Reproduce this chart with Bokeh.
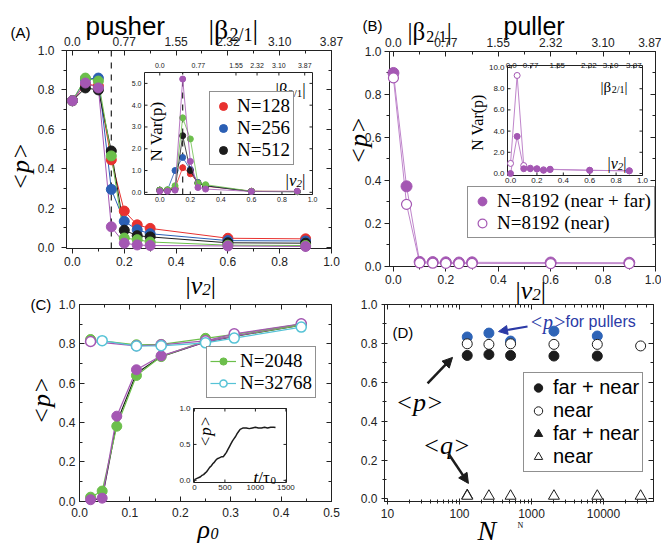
import math
from bokeh.plotting import figure
from bokeh.models import (Range1d, LinearAxis, LogAxis, FixedTicker, PrintfTickFormatter,
                          Label, Legend, LegendItem, Span, Arrow, NormalHead)
from bokeh.embed import file_html
from bokeh.resources import INLINE
from bokeh.core.properties import value

SANS = "Liberation Sans"
SERIF = "Liberation Serif"
INK = "#222222"
RED, BLUE, BLACK, GREEN, PURPLE = "#e8312f", "#2b5fb4", "#1c1c1c", "#6cbf4b", "#a457b3"
LILAC, CYAN, DBLUE, NAVY = "#bf85cb", "#56c3d6", "#2e64b7", "#2b3aa6"

# ---------------- data ----------------
# (A) pushers: <p> and N Var(p) versus |v2|
V2 = [0.0, 0.05, 0.10, 0.15, 0.20, 0.25, 0.30, 0.60, 0.90]
PUSH_P_128 = [0.745, 0.830, 0.820, 0.445, 0.185, 0.115, 0.097, 0.047, 0.044]
PUSH_P_256 = [0.745, 0.855, 0.860, 0.295, 0.133, 0.090, 0.070, 0.035, 0.033]
PUSH_P_512 = [0.745, 0.810, 0.800, 0.490, 0.088, 0.060, 0.054, 0.024, 0.022]
PUSH_P_2048 = [0.745, 0.860, 0.845, 0.465, 0.048, 0.040, 0.028, 0.012, 0.010]
PUSH_P_8192 = [0.745, 0.835, 0.810, 0.105, 0.022, 0.013, 0.010, 0.008, 0.005]
PUSH_VAR_128 = [0.10, 0.10, 0.20, 1.13, 0.85, 0.45, 0.28, 0.05, 0.04]
PUSH_VAR_256 = [0.10, 0.10, 1.00, 1.60, 1.05, 0.45, 0.30, 0.04, 0.03]
PUSH_VAR_512 = [0.10, 0.10, 0.15, 2.60, 1.00, 0.40, 0.30, 0.04, 0.03]
PUSH_VAR_2048 = [0.10, 0.12, 0.30, 3.42, 2.45, 0.42, 0.35, 0.05, 0.03]
PUSH_VAR_8192 = [0.05, 0.05, 0.10, 5.20, 1.42, 0.22, 0.15, 0.04, 0.05]
V2_CRIT = 0.15

# (B) pullers
PULL_P_FULL = [0.900, 0.372, 0.020, 0.019, 0.018, 0.017, 0.018, 0.017, 0.016]
PULL_P_NEAR = [0.877, 0.288, 0.015, 0.014, 0.013, 0.012, 0.013, 0.012, 0.012]
PULL_VAR_FULL = [0.00, 3.50, 0.45, 0.45, 0.42, 0.30, 0.38, 0.30, 0.25]
PULL_VAR_NEAR = [0.95, 9.25, 0.75, 0.50, 0.45, 0.35, 0.40, 0.30, 0.25]

# (C) <p> versus rho0
RHO = [0.022, 0.045, 0.074, 0.113, 0.162, 0.250, 0.307, 0.440]
C_2048_LOW = [0.020, 0.051, 0.381, 0.639, 0.735, 0.815, 0.840, 0.895]
C_8192_LOW = [0.007, 0.015, 0.432, 0.668, 0.739, 0.810, 0.840, 0.900]
C_BLACK_LOW = [0.005, 0.012, 0.400, 0.650, 0.735, 0.810, 0.838, 0.895]
RHO_UP = [0.022, 0.113, 0.162, 0.250, 0.307, 0.440]
C_2048_UP = [0.822, 0.795, 0.797, 0.828, 0.848, 0.900]
C_8192_UP = [0.812, 0.790, 0.795, 0.815, 0.851, 0.902]
RHO_32768 = [0.045, 0.113, 0.162, 0.250, 0.307, 0.440]
C_32768 = [0.816, 0.789, 0.790, 0.805, 0.829, 0.885]
T_INSET = [0, 25, 50, 75, 100, 125, 150, 175, 200, 225, 250, 275, 300, 325, 350, 375, 400,
           425, 450, 475, 500, 525, 550, 575, 600, 625, 650, 675, 700, 725, 750, 775, 800,
           850, 900, 950, 1000, 1050, 1100, 1150, 1200, 1250, 1300, 1330]
P_INSET = [0.01, 0.02, 0.03, 0.04, 0.05, 0.07, 0.08, 0.10, 0.12, 0.15, 0.18, 0.20, 0.23,
           0.25, 0.28, 0.30, 0.31, 0.32, 0.33, 0.33, 0.36, 0.39, 0.43, 0.47, 0.51, 0.55,
           0.58, 0.61, 0.65, 0.68, 0.71, 0.72, 0.73, 0.73, 0.72, 0.73, 0.74, 0.73, 0.73,
           0.74, 0.73, 0.74, 0.74, 0.735]

# (D) <p>, <q> versus N
N_PULL = [128, 256, 512, 2048, 8192]
D_PULL = [0.833, 0.853, 0.812, 0.863, 0.838]
N_ALL = [128, 256, 512, 2048, 8192, 32768]
D_NEAR = [0.798, 0.795, 0.798, 0.795, 0.795, 0.787]
N_FN = [128, 256, 512, 2048, 8192]
D_FARNEAR = [0.738, 0.743, 0.738, 0.735, 0.735]
D_FARNEAR_ERR = [0.020, 0.0, 0.0, 0.0, 0.0]
N_QFN = [128]
Q_FARNEAR = [0.018]
Q_NEAR = [0.015, 0.015, 0.015, 0.015, 0.015, 0.015]

# ticks
V2_TICKS = [0.0, 0.2, 0.4, 0.6, 0.8, 1.0]
V2_MINOR = [0.1, 0.3, 0.5, 0.7, 0.9]
V2_LABELS = ["0.0", "0.2", "0.4", "0.6", "0.8", "1.0"]
P_TICKS = [0.0, 0.2, 0.4, 0.6, 0.8, 1.0]
P_MINOR = [0.1, 0.3, 0.5, 0.7, 0.9]
BETA_LABELS = ["0.0", "0.77", "1.55", "2.32", "3.10", "3.87"]
BETA_AT_A = [0.0, 0.253, 0.499, 0.637, 0.780, 0.949]
BETA_AT_B = [0.005, 0.152, 0.354, 0.593, 0.758, 0.934]
VAR_A_TICKS = [0, 1, 2, 3, 4, 5]
VAR_A_LABELS = ["0.0", "1.0", "2.0", "3.0", "4.0", "5.0"]
VAR_B_TICKS = [0, 2, 4, 6, 8, 10]
VAR_B_LABELS = ["0.0", "2.0", "4.0", "6.0", "8.0", "10.0"]
RHO_TICKS = [0.0, 0.1, 0.2, 0.3, 0.4, 0.5]
RHO_MINOR = [0.05, 0.15, 0.25, 0.35, 0.45]
T_TICKS = [0, 500, 1000, 1500]
T_LABELS = ["0", "500", "1000", "1500"]
PC_TICKS = [0.0, 0.5, 1.0]
PC_LABELS = ["0.0", "0.5", "1.0"]
N_TICKS = [10, 100, 1000, 10000]
N_MINOR = [20, 30, 40, 50, 60, 70, 80, 90, 200, 300, 400, 500, 600, 700, 800, 900,
           2000, 3000, 4000, 5000, 6000, 7000, 8000, 9000, 20000, 30000, 40000]

# ---------------- helpers ----------------
WID = {'|': 0.2, 'β': 0.55, 'v': 0.444, '2': 0.5, '/': 0.278, '1': 0.5, 'ρ': 0.5,
       '0': 0.5, 't': 0.278, 'τ': 0.44}


def tw(s, size):
    return sum(WID.get(ch, 0.5) for ch in s) * size


def fig(w, h, l, r, t, b, xr, yr, left, top, xtype="linear"):
    p = figure(width=w, height=h, x_range=Range1d(*xr), y_range=Range1d(*yr),
               x_axis_type=xtype, output_backend="svg", toolbar_location=None,
               min_border_left=l, min_border_right=r, min_border_top=t, min_border_bottom=b,
               styles={"position": "absolute", "left": f"{left}px", "top": f"{top}px"})
    p.xgrid.visible = False
    p.ygrid.visible = False
    p.outline_line_color = INK
    p.outline_line_width = 1
    p.background_fill_alpha = 0.0
    p.border_fill_alpha = 0.0
    return p


def ax_style(ax, ticks, minor, fmt=None, overrides=None, tin=0, tout=5, labels=True, standoff=3):
    ax.ticker = FixedTicker(ticks=ticks, minor_ticks=minor)
    if fmt:
        ax.formatter = PrintfTickFormatter(format=fmt)
    ax.axis_line_color = INK
    ax.major_tick_line_color = INK
    ax.minor_tick_line_color = INK
    ax.major_tick_in, ax.major_tick_out = tin, tout
    ax.minor_tick_in, ax.minor_tick_out = (tin + 1) // 2, (tout + 1) // 2
    ax.major_label_text_font = SANS
    ax.major_label_text_color = INK
    if labels:
        if overrides:
            ax.major_label_overrides = overrides
        ax.major_label_text_font_size = "12px"
        ax.major_label_standoff = standoff
    else:
        ax.formatter = PrintfTickFormatter(format=" ")
        ax.major_label_text_font_size = "1px"
        ax.major_label_standoff = 0


def put(p, g, X, Y, text, size, font=SERIF, style="normal", color="black",
        align="left", baseline="alphabetic", angle=0.0):
    p.add_layout(Label(x=X - g[0], y=g[3] - Y, x_units="screen", y_units="screen", text=text,
                       text_font=font, text_font_size=f"{size}px", text_font_style=style,
                       text_color=color, text_align=align, text_baseline=baseline, angle=angle))


def rich(p, g, X, Y, parts):
    x = X
    for text, size, style, dy in parts:
        put(p, g, x, Y + dy, text, size, style=style)
        x += tw(text, size)


def bar_v2(p, g, X, Y, s, s2, dy):
    rich(p, g, X, Y, [("|", s, "normal", 0), ("v", s, "italic", 0), ("2", s2, "italic", dy),
                      ("|", s, "normal", 0)])


def bar_beta(p, g, X, Y, s, s2, dy):
    rich(p, g, X, Y, [("|", s, "normal", 0), ("β", s, "normal", 0), ("2/1", s2, "normal", dy),
                      ("|", s, "normal", 0)])


def inset(p, name, frame, box, xd, yd, xt, xl, yt, yl, tt=None, tl=None, fs=7, top_off=-4):
    fl, fr, ft, fb = frame
    bl, br, bt, bb = box
    sx = (xd[1] - xd[0]) / (br - bl)
    sy = (yd[1] - yd[0]) / (bb - bt)
    p.extra_x_ranges[name] = Range1d(xd[0] - (bl - fl) * sx, xd[1] + (fr - br) * sx)
    p.extra_y_ranges[name] = Range1d(yd[0] - (fb - bb) * sy, yd[1] + (bt - ft) * sy)
    kw = dict(x_range_name=name, y_range_name=name)
    p.quad(left=[xd[0]], right=[xd[1]], bottom=[yd[0]], top=[yd[1]], fill_color="white",
           line_color=INK, line_width=1, **kw)
    L = 3
    tt2 = tt if tt is not None else xt
    p.segment(x0=xt, x1=xt, y0=[yd[0]] * len(xt), y1=[yd[0] + L * sy] * len(xt), line_color=INK, **kw)
    p.segment(x0=tt2, x1=tt2, y0=[yd[1]] * len(tt2), y1=[yd[1] - L * sy] * len(tt2), line_color=INK, **kw)
    p.segment(y0=yt, y1=yt, x0=[xd[0]] * len(yt), x1=[xd[0] + L * sx] * len(yt), line_color=INK, **kw)
    p.segment(y0=yt, y1=yt, x0=[xd[1]] * len(yt), x1=[xd[1] - L * sx] * len(yt), line_color=INK, **kw)
    txt = dict(text_font=value(SANS), text_font_size=f"{fs}px", text_color=INK, **kw)
    p.text(x=xt, y=[yd[0]] * len(xt), text=xl, text_align="center", text_baseline="top",
           y_offset=2, **txt)
    p.text(x=[xd[0]] * len(yt), y=yt, text=yl, text_align="right", text_baseline="middle",
           x_offset=-3, **txt)
    if tl:
        p.text(x=tt, y=[yd[1]] * len(tt), text=tl, text_align="center", text_baseline="bottom",
               y_offset=top_off, **txt)
    return kw


def legend(p, items, loc, font, size, gw, gh, style="normal"):
    lg = Legend(items=[LegendItem(label=t, renderers=r) for t, r in items], location=loc,
                label_text_font=font, label_text_font_size=f"{size}px", label_text_font_style=style,
                label_text_color="black", glyph_width=gw, glyph_height=gh, label_height=gh,
                label_standoff=4, spacing=0, padding=3, margin=0,
                border_line_color=INK, border_line_width=1.5, background_fill_alpha=1.0)
    p.add_layout(lg)


# ---------------- page background with the free-standing texts ----------------
GP = (0, 661, 0, 544)
bg = figure(width=661, height=544, x_range=Range1d(0, 661), y_range=Range1d(0, 544),
            output_backend="svg", toolbar_location=None, x_axis_location=None, y_axis_location=None,
            min_border=0, styles={"position": "absolute", "left": "0px", "top": "0px"})
bg.xgrid.visible = False
bg.ygrid.visible = False
bg.outline_line_color = None
bg.background_fill_color = "white"
bg.border_fill_color = "white"

put(bg, GP, 10, 32, "(A)", 15, font=SANS)
put(bg, GP, 85, 25, "pusher", 26, font=SANS)
bar_beta(bg, GP, 208, 29, 28, 18, 5)
bar_v2(bg, GP, 185, 285, 26, 17, 4)
put(bg, GP, 20, 166, "<p>", 26, style="italic", align="center", baseline="middle", angle=math.pi / 2)

put(bg, GP, 362, 25, "(B)", 15, font=SANS)
put(bg, GP, 503, 25, "puller", 25, font=SANS)
bar_beta(bg, GP, 407, 31, 25, 16, 5)
bar_v2(bg, GP, 515, 290, 26, 17, 4)
put(bg, GP, 358, 140, "<p>", 26, style="italic", align="center", baseline="middle", angle=math.pi / 2)

put(bg, GP, 30, 304, "(C)", 15, font=SANS)
put(bg, GP, 41, 400, "<p>", 26, style="italic", align="center", baseline="middle", angle=math.pi / 2)
rich(bg, GP, 197, 529, [("ρ", 26, "italic", 0), ("0", 16, "italic", 4)])

put(bg, GP, 392, 332, "(D)", 15, font=SANS)
put(bg, GP, 477, 530, "N", 28, style="italic")
put(bg, GP, 517, 525, "N", 8)
put(bg, GP, 395, 402, "<p>", 26, style="italic")
put(bg, GP, 422, 445, "<q>", 26, style="italic")
put(bg, GP, 529, 321, "<p>", 20, style="italic", color=NAVY)
put(bg, GP, 565, 321, "for pullers", 16, font=SANS, color=NAVY)

# ---------------- (A) ----------------
GA = (66, 331, 50, 248)
pa = fig(345, 294, 66, 14, 50, 46, (-0.023, 1.0), (-0.005, 1.0), 0, 0)
ax_style(pa.xaxis[0], V2_TICKS, V2_MINOR, fmt="%.1f", standoff=3)
ax_style(pa.yaxis[0], P_TICKS, P_MINOR, fmt="%.1f", standoff=7)
a_top = LinearAxis()
pa.add_layout(a_top, "above")
ax_style(a_top, V2_TICKS, V2_MINOR, overrides=dict(zip(V2_TICKS, BETA_LABELS)), tin=5, tout=0, standoff=5)
a_right = LinearAxis()
pa.add_layout(a_right, "right")
ax_style(a_right, P_TICKS, P_MINOR, tin=5, tout=0, labels=False)

A_SERIES = [(PUSH_P_128, PUSH_VAR_128, RED), (PUSH_P_256, PUSH_VAR_256, BLUE),
            (PUSH_P_512, PUSH_VAR_512, BLACK), (PUSH_P_2048, PUSH_VAR_2048, GREEN),
            (PUSH_P_8192, PUSH_VAR_8192, PURPLE)]
for pv, _, c in A_SERIES:
    pa.line(V2, pv, line_color=c, line_width=1)
    pa.scatter(V2, pv, size=10, fill_color=c, line_color=c, level="overlay")
pa.add_layout(Span(location=V2_CRIT, dimension="height", line_color=INK, line_dash="dashed", line_width=1.2))

kwA = inset(pa, "ia", GA, (144, 312, 72, 194), (-0.1, 1.0), (-0.1, 5.5), V2_TICKS, V2_LABELS,
            VAR_A_TICKS, VAR_A_LABELS, tt=BETA_AT_A, tl=BETA_LABELS, fs=7, top_off=-5)
pa.segment(x0=[V2_CRIT], x1=[V2_CRIT], y0=[-0.1], y1=[5.5], line_dash="dashed", line_color=INK,
           line_width=1.2, **kwA)
rA = []
for _, var, c in A_SERIES:
    pa.line(V2, var, line_color=c, line_width=0.8, **kwA)
    rA.append(pa.scatter(V2, var, size=6, fill_color=c, line_color=c, **kwA))
legend(pa, [("N=128", [rA[0]]), ("N=256", [rA[1]]), ("N=512", [rA[2]])],
       (209 - 66, 248 - 165), SERIF, 19, 20, 20)
put(pa, GA, 156, 131, "N Var(p)", 17, align="center", baseline="middle", angle=math.pi / 2)
bar_beta(pa, GA, 275, 89, 17, 11, 3)
bar_v2(pa, GA, 285, 180, 17, 11, 3)

# ---------------- (B) ----------------
GB = (389, 655, 51, 266)
pb = fig(316, 297, 44, 6, 51, 31, (-0.015, 1.0), (-0.0015, 1.0), 345, 0)
ax_style(pb.xaxis[0], V2_TICKS, V2_MINOR, fmt="%.1f", standoff=3)
ax_style(pb.yaxis[0], P_TICKS, P_MINOR, fmt="%.1f", standoff=3)
b_top = LinearAxis()
pb.add_layout(b_top, "above")
ax_style(b_top, V2_TICKS, V2_MINOR, overrides=dict(zip(V2_TICKS, BETA_LABELS)), tin=5, tout=0, standoff=5)
b_right = LinearAxis()
pb.add_layout(b_right, "right")
ax_style(b_right, P_TICKS, P_MINOR, tin=5, tout=0, labels=False)

pb.line(V2, PULL_P_FULL, line_color=LILAC, line_width=1)
pb.line(V2, PULL_P_NEAR, line_color=LILAC, line_width=1)
rb_full = pb.scatter(V2, PULL_P_FULL, size=11, fill_color=PURPLE, line_color=PURPLE, level="overlay")
rb_near = pb.scatter(V2, PULL_P_NEAR, size=10, fill_color="white", line_color=PURPLE,
                     line_width=1.2, level="overlay")

kwB = inset(pb, "ib", GB, (507, 642, 65, 175), (-0.023, 1.0), (-0.19, 10.19), V2_TICKS, V2_LABELS,
            VAR_B_TICKS, VAR_B_LABELS, tt=BETA_AT_B, tl=BETA_LABELS, fs=8, top_off=2)
pb.line(V2, PULL_VAR_NEAR, line_color=LILAC, line_width=1, **kwB)
pb.line(V2, PULL_VAR_FULL, line_color=LILAC, line_width=1, **kwB)
pb.scatter(V2, PULL_VAR_NEAR, size=6, fill_color="white", line_color=PURPLE, line_width=1, **kwB)
pb.scatter(V2, PULL_VAR_FULL, size=6, fill_color=PURPLE, line_color=PURPLE, **kwB)
legend(pb, [("N=8192 (near + far)", [rb_full]), ("N=8192 (near)", [rb_near])],
       (467 - 389, 266 - 238), SERIF, 19, 22, 22)
put(pb, GB, 477, 122, "N Var(p)", 16, align="center", baseline="middle", angle=math.pi / 2)
bar_beta(pb, GB, 600, 86, 15, 10, 3)
bar_v2(pb, GB, 607, 163, 16, 11, 3)

# ---------------- (C) ----------------
GC = (79, 331, 304, 501)
pc = fig(345, 250, 79, 14, 10, 43, (0.0, 0.5), (-0.002, 1.0), 0, 294)
ax_style(pc.xaxis[0], RHO_TICKS, RHO_MINOR, fmt="%.1f", tin=5, tout=0, standoff=6)
ax_style(pc.yaxis[0], P_TICKS, P_MINOR, fmt="%.1f", tin=5, tout=0, standoff=4)
c_top = LinearAxis()
pc.add_layout(c_top, "above")
ax_style(c_top, RHO_TICKS, RHO_MINOR, tin=5, tout=0, labels=False)
c_right = LinearAxis()
pc.add_layout(c_right, "right")
ax_style(c_right, P_TICKS, P_MINOR, tin=5, tout=0, labels=False)

pc.line(RHO, C_BLACK_LOW, line_color=BLACK, line_width=1.2)
lg_low = pc.line(RHO, C_2048_LOW, line_color=GREEN, line_width=1.2)
pc.line(RHO, C_8192_LOW, line_color=PURPLE, line_width=1.2)
pc.line(RHO_UP, C_2048_UP, line_color=GREEN, line_width=1.2)
pc.line(RHO_UP, C_8192_UP, line_color=PURPLE, line_width=1.2)
lc = pc.line(RHO_32768, C_32768, line_color=CYAN, line_width=1.2)
sg = pc.scatter(RHO, C_2048_LOW, size=10, fill_color=GREEN, line_color=GREEN, level="overlay")
pc.scatter(RHO, C_8192_LOW, size=10, fill_color=PURPLE, line_color=PURPLE, level="overlay")
pc.scatter(RHO_UP, C_2048_UP, size=10, fill_color=GREEN, line_color=GREEN, level="overlay")
pc.scatter(RHO_UP, C_8192_UP, size=10, fill_color="white", line_color=PURPLE, line_width=1.5, level="overlay")
sc = pc.scatter(RHO_32768, C_32768, size=10, fill_color="white", line_color=CYAN, line_width=1.5, level="overlay")

kwC = inset(pc, "ic", GC, (193, 286, 408, 482), (-15, 1510), (-0.03, 1.0), T_TICKS, T_LABELS,
            PC_TICKS, PC_LABELS, fs=8)
pc.line(T_INSET, P_INSET, line_color=BLACK, line_width=1.5, **kwC)
legend(pc, [("N=2048", [lg_low, sg]), ("N=32768", [lc, sc])], (206 - 79, 501 - 398), SERIF, 19, 26, 18)
put(pc, GC, 205, 431, "<p>", 17, style="italic", align="center", baseline="middle", angle=math.pi / 2)
rich(pc, GC, 253, 477, [("t", 17, "italic", 0), ("/τ", 17, "normal", 0), ("0", 11, "normal", 3)])

# ---------------- (D) ----------------
GD = (384, 653, 304, 501)
pd = fig(316, 247, 39, 8, 7, 43, (9.08, 49440), (-0.013, 1.0), 345, 297, xtype="log")
ax_style(pd.xaxis[0], N_TICKS, N_MINOR, fmt="%d", tin=3, tout=3, standoff=4)
ax_style(pd.yaxis[0], P_TICKS, P_MINOR, fmt="%.1f", tin=3, tout=3, standoff=4)
d_top = LogAxis()
pd.add_layout(d_top, "above")
ax_style(d_top, N_TICKS, N_MINOR, tin=5, tout=0, labels=False)
d_right = LinearAxis()
pd.add_layout(d_right, "right")
ax_style(d_right, P_TICKS, P_MINOR, tin=5, tout=0, labels=False)

pd.segment(x0=N_FN, x1=N_FN, y0=[v - e for v, e in zip(D_FARNEAR, D_FARNEAR_ERR)],
           y1=[v + e for v, e in zip(D_FARNEAR, D_FARNEAR_ERR)], line_color=BLACK, line_width=1.5)
pd.scatter(N_PULL, D_PULL, size=10, fill_color=DBLUE, line_color=DBLUE, level="overlay")
rd_fn = pd.scatter(N_FN, D_FARNEAR, size=10, fill_color=BLACK, line_color=BLACK, level="overlay")
rd_near = pd.scatter(N_ALL, D_NEAR, size=10, fill_color="white", line_color=BLACK, line_width=1, level="overlay")
rd_qfn = pd.scatter(N_QFN, Q_FARNEAR, marker="triangle", size=11, fill_color=BLACK, line_color=BLACK, level="overlay")
rd_qn = pd.scatter(N_ALL, Q_NEAR, marker="triangle", size=11, fill_color="white", line_color=BLACK,
                   line_width=1, level="overlay")
legend(pd, [("far + near", [rd_fn]), ("near", [rd_near]), ("far + near", [rd_qfn]), ("near", [rd_qn])],
       (523 - 384, 500 - 471), SANS, 20, 22, 21)

pd.add_layout(Arrow(end=NormalHead(size=9, fill_color=NAVY, line_color=NAVY), x_start=880, y_start=0.887,
                    x_end=348, y_end=0.861, line_color=NAVY, line_width=2))
pd.add_layout(Arrow(end=NormalHead(size=10, fill_color=BLACK, line_color=BLACK), x_start=36, y_start=0.594,
                    x_end=80, y_end=0.728, line_color=BLACK, line_width=2.5))
pd.add_layout(Arrow(end=NormalHead(size=10, fill_color=BLACK, line_color=BLACK), x_start=70, y_start=0.234,
                    x_end=133, y_end=0.08, line_color=BLACK, line_width=2.5))

open("out.html", "w").write(file_html([bg, pa, pb, pc, pd], INLINE, title="pusher puller"))
